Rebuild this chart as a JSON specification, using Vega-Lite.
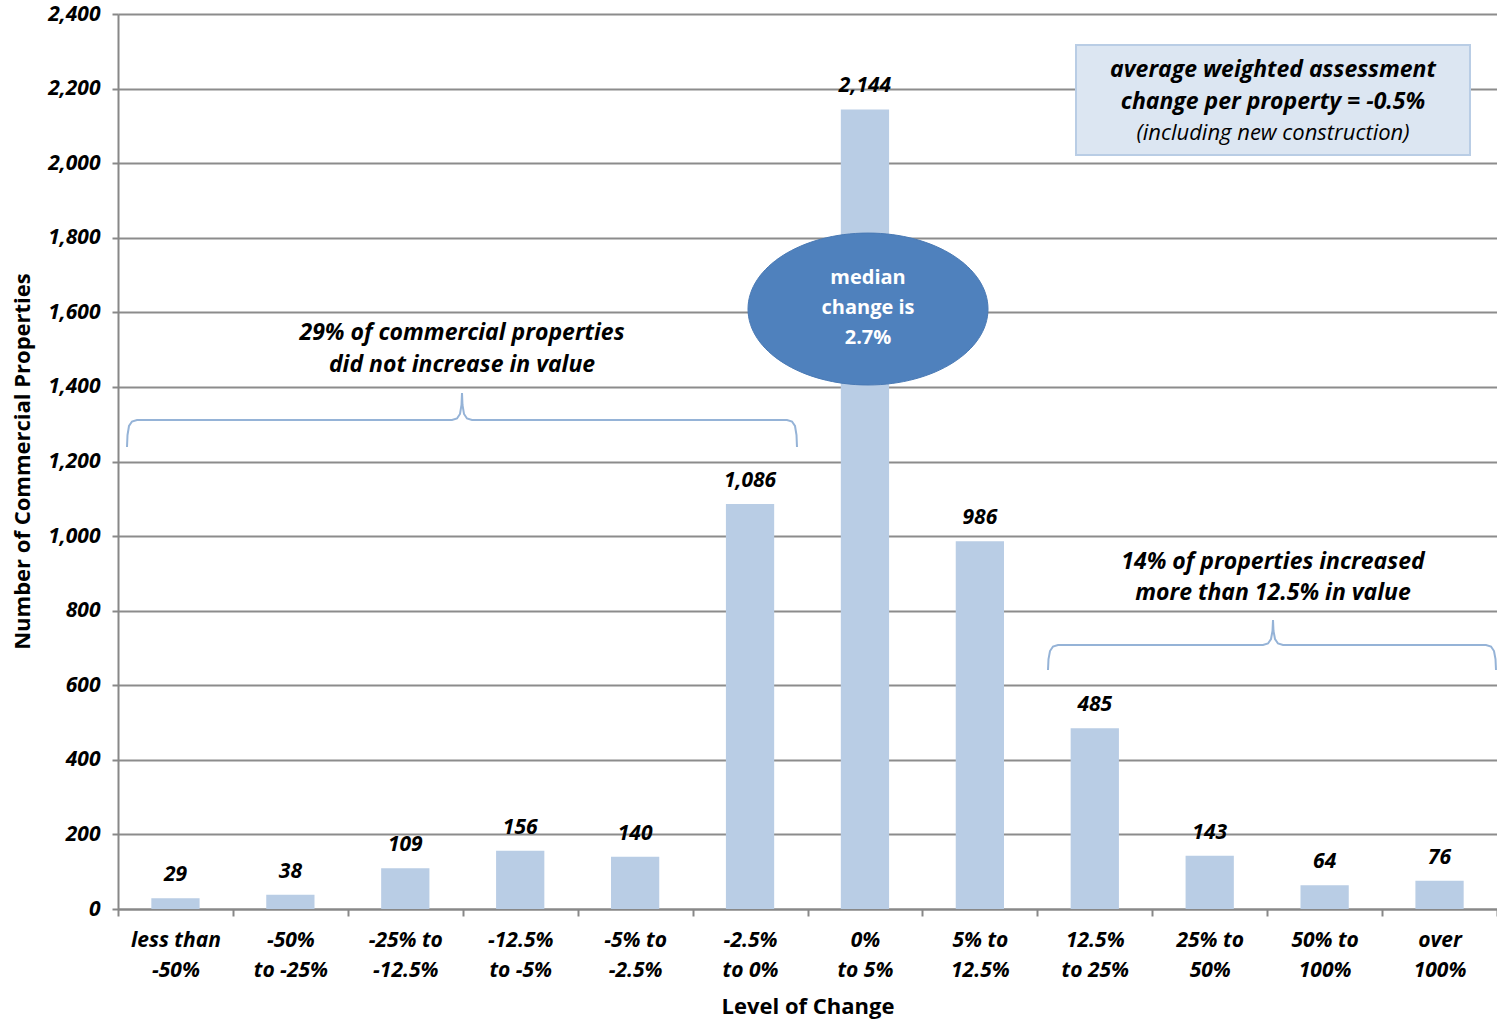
{
  "$schema": "https://vega.github.io/schema/vega-lite/v6.json",
  "width": 1379,
  "height": 895,
  "autosize": {"type": "none"},
  "padding": {"left": 118, "top": 14, "right": 0, "bottom": 113},
  "background": "white",
  "config": {
    "view": {"stroke": null},
    "font": "Open Sans",
    "axis": {
      "domainColor": "#888888", "domainWidth": 2,
      "tickColor": "#888888", "tickWidth": 2,
      "gridColor": "#8c8c8c", "gridWidth": 2,
      "labelColor": "black", "titleColor": "black",
      "labelFont": "Open Sans", "titleFont": "Open Sans"
    }
  },
  "datasets": {
    "bars": [
      {"level": "less than|-50%", "count": 29},
      {"level": "-50%|to -25%", "count": 38},
      {"level": "-25% to|-12.5%", "count": 109},
      {"level": "-12.5%|to -5%", "count": 156},
      {"level": "-5% to|-2.5%", "count": 140},
      {"level": "-2.5%|to 0%", "count": 1086},
      {"level": "0%|to 5%", "count": 2144},
      {"level": "5% to|12.5%", "count": 986},
      {"level": "12.5%|to 25%", "count": 485},
      {"level": "25% to|50%", "count": 143},
      {"level": "50% to|100%", "count": 64},
      {"level": "over|100%", "count": 76}
    ],
    "leftBrace": [
      {"i": 0, "x": 0.0783, "y": 1238.9}, {"i": 1, "x": 0.0827, "y": 1271.1}, {"i": 2, "x": 0.0957, "y": 1295.2},
      {"i": 3, "x": 0.1218, "y": 1307.3}, {"i": 4, "x": 0.1653, "y": 1311.3}, {"i": 5, "x": 2.9065, "y": 1311.3},
      {"i": 6, "x": 2.9499, "y": 1315.3}, {"i": 7, "x": 2.9761, "y": 1327.4}, {"i": 8, "x": 2.9891, "y": 1351.5},
      {"i": 9, "x": 2.9935, "y": 1383.7}, {"i": 10, "x": 2.9978, "y": 1351.5}, {"i": 11, "x": 3.0109, "y": 1327.4},
      {"i": 12, "x": 3.037, "y": 1315.3}, {"i": 13, "x": 3.0805, "y": 1311.3}, {"i": 14, "x": 5.8216, "y": 1311.3},
      {"i": 15, "x": 5.8651, "y": 1307.3}, {"i": 16, "x": 5.8912, "y": 1295.2}, {"i": 17, "x": 5.9043, "y": 1271.1},
      {"i": 18, "x": 5.9086, "y": 1238.9}
    ],
    "rightBrace": [
      {"i": 0, "x": 8.0928, "y": 640.9}, {"i": 1, "x": 8.0972, "y": 670.4}, {"i": 2, "x": 8.1102, "y": 691.8},
      {"i": 3, "x": 8.1363, "y": 703.9}, {"i": 4, "x": 8.1798, "y": 707.9}, {"i": 5, "x": 9.9637, "y": 707.9},
      {"i": 6, "x": 10.0073, "y": 712.0}, {"i": 7, "x": 10.0334, "y": 724.0}, {"i": 8, "x": 10.0464, "y": 745.5},
      {"i": 9, "x": 10.0508, "y": 775.0}, {"i": 10, "x": 10.0551, "y": 745.5}, {"i": 11, "x": 10.0682, "y": 724.0},
      {"i": 12, "x": 10.0943, "y": 712.0}, {"i": 13, "x": 10.1378, "y": 707.9}, {"i": 14, "x": 11.9043, "y": 707.9},
      {"i": 15, "x": 11.9478, "y": 703.9}, {"i": 16, "x": 11.9739, "y": 691.8}, {"i": 17, "x": 11.9869, "y": 670.4},
      {"i": 18, "x": 11.9913, "y": 640.9}
    ]
  },
  "resolve": {"scale": {"x": "independent"}, "axis": {"x": "independent"}},
  "layer": [
    {
      "data": {"name": "bars"},
      "layer": [
        {
          "mark": {"type": "bar", "color": "#b9cde5", "width": {"band": 0.42}},
          "encoding": {
            "x": {
              "field": "level", "type": "nominal", "sort": null,
              "scale": {"paddingInner": 0, "paddingOuter": 0},
              "axis": {
                "title": "Level of Change",
                "titleFontSize": 22, "titleFontWeight": "bold", "titlePadding": 16,
                "labelAngle": 0, "labelFontSize": 21, "labelFontWeight": "bold", "labelFontStyle": "italic",
                "labelExpr": "datum.value ? split(datum.value, '|') : ''", "labelLineHeight": 30,
                "labelPadding": 13, "tickSize": 7, "tickBand": "extent", "labelBaseline": "top"
              }
            },
            "y": {
              "field": "count", "type": "quantitative",
              "scale": {"domain": [0, 2400]},
              "axis": {
                "title": "Number of Commercial Properties",
                "titleFontSize": 22, "titleFontWeight": "bold",
                "titleX": -96, "titleY": 447, "titleBaseline": "middle", "titleAngle": -90, "titleAlign": "center",
                "values": [0, 200, 400, 600, 800, 1000, 1200, 1400, 1600, 1800, 2000, 2200, 2400],
                "format": ",d", "labelFontSize": 21, "labelFontWeight": "bold", "labelFontStyle": "italic",
                "tickSize": 6, "labelPadding": 12, "grid": true
              }
            }
          }
        },
        {
          "mark": {"type": "text", "baseline": "middle", "dy": -23, "fontSize": 21, "fontWeight": "bold", "fontStyle": "italic", "color": "black"},
          "encoding": {
            "x": {"field": "level", "type": "nominal", "sort": null},
            "y": {"field": "count", "type": "quantitative"},
            "text": {"field": "count", "type": "quantitative", "format": ",d"}
          }
        }
      ]
    },
    {
      "layer": [
        {
          "data": {"values": [{"x1": 8.3365, "x2": 11.7651, "y1": 2316.9, "y2": 2021.9}]},
          "mark": {"type": "rect", "fill": "#dce6f2", "stroke": "#b9cde5", "strokeWidth": 2},
          "encoding": {
            "x": {"field": "x1", "type": "quantitative", "scale": {"domain": [0, 12]}, "axis": null},
            "x2": {"field": "x2"},
            "y": {"field": "y1", "type": "quantitative"},
            "y2": {"field": "y2"}
          }
        },
        {
          "data": {"name": "leftBrace"},
          "mark": {"type": "line", "color": "#95b3d7", "strokeWidth": 2},
          "encoding": {
            "x": {"field": "x", "type": "quantitative"},
            "y": {"field": "y", "type": "quantitative"},
            "order": {"field": "i"}
          }
        },
        {
          "data": {"name": "rightBrace"},
          "mark": {"type": "line", "color": "#95b3d7", "strokeWidth": 2},
          "encoding": {
            "x": {"field": "x", "type": "quantitative"},
            "y": {"field": "y", "type": "quantitative"},
            "order": {"field": "i"}
          }
        },
        {
          "data": {"values": [{"x": 6.5265, "y": 1608.9}]},
          "mark": {"type": "point", "shape": "M -1 0 A 1 0.633 0 1 0 1 0 A 1 0.633 0 1 0 -1 0 Z", "size": 57600, "filled": true, "fill": "#4f81bd", "opacity": 1, "stroke": "#4a7ab5", "strokeWidth": 1},
          "encoding": {
            "x": {"field": "x", "type": "quantitative"},
            "y": {"field": "y", "type": "quantitative"}
          }
        },
        {
          "data": {"values": [
            {"x": 6.5265, "y": 1692.1, "t": "median"},
            {"x": 6.5265, "y": 1611.6, "t": "change is"},
            {"x": 6.5265, "y": 1531.2, "t": "2.7%"}
          ]},
          "mark": {"type": "text", "baseline": "middle", "align": "center", "fontSize": 20, "fontWeight": "bold", "color": "white"},
          "encoding": {
            "x": {"field": "x", "type": "quantitative"},
            "y": {"field": "y", "type": "quantitative"},
            "text": {"field": "t"}
          }
        },
        {
          "data": {"values": [
            {"x": 10.0508, "y": 2249.8, "t": "average weighted assessment"},
            {"x": 10.0508, "y": 2164.0, "t": "change per property = -0.5%"},
            {"x": 2.9935, "y": 1544.6, "t": "29% of commercial properties"},
            {"x": 2.9935, "y": 1458.8, "t": "did not increase in value"},
            {"x": 10.0508, "y": 930.5, "t": "14% of properties increased"},
            {"x": 10.0508, "y": 847.4, "t": "more than 12.5% in value"}
          ]},
          "mark": {"type": "text", "baseline": "middle", "align": "center", "fontSize": 23, "fontWeight": "bold", "fontStyle": "italic", "color": "black"},
          "encoding": {
            "x": {"field": "x", "type": "quantitative"},
            "y": {"field": "y", "type": "quantitative"},
            "text": {"field": "t"}
          }
        },
        {
          "data": {"values": [{"x": 10.0508, "y": 2080.9, "t": "(including new construction)"}]},
          "mark": {"type": "text", "baseline": "middle", "align": "center", "fontSize": 22, "fontStyle": "italic", "color": "black"},
          "encoding": {
            "x": {"field": "x", "type": "quantitative"},
            "y": {"field": "y", "type": "quantitative"},
            "text": {"field": "t"}
          }
        }
      ]
    }
  ]
}
